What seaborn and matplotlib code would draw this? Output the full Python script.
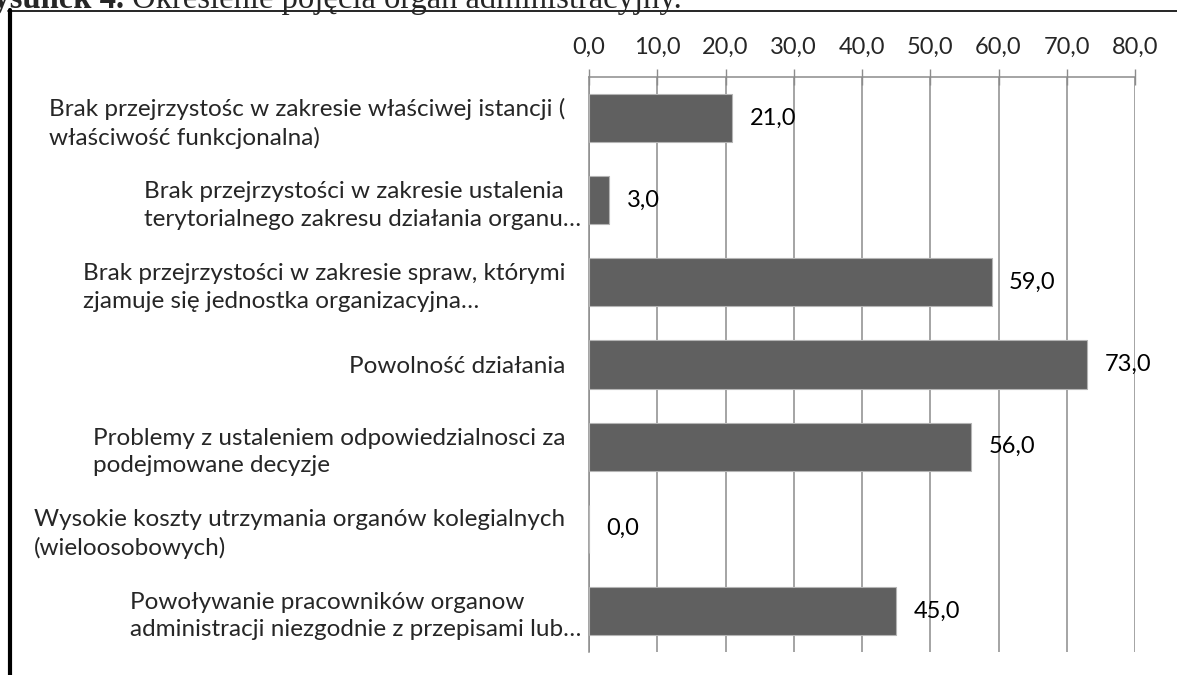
import matplotlib
matplotlib.use('Agg')
import matplotlib.pyplot as plt
import matplotlib.transforms as mtrans
from matplotlib.lines import Line2D
import numpy as np
import pandas as pd
import seaborn as sns

# dane z wykresu
kategorie = [
    'Brak przejrzystośc w zakresie właściwej istancji (\nwłaściwość funkcjonalna)',
    'Brak przejrzystości w zakresie ustalenia\nterytorialnego zakresu działania organu…',
    'Brak przejrzystości w zakresie spraw, którymi\nzjamuje się jednostka organizacyjna…',
    'Powolność działania',
    'Problemy z ustaleniem odpowiedzialnosci za\npodejmowane decyzje',
    'Wysokie koszty utrzymania organów kolegialnych\n(wieloosobowych)',
    'Powoływanie pracowników organow\nadministracji niezgodnie z przepisami lub…',
]
wartosci = [21.0, 3.0, 59.0, 73.0, 56.0, 0.0, 45.0]
ticki_x = [0, 10, 20, 30, 40, 50, 60, 70, 80]

df = pd.DataFrame({'kategoria': kategorie, 'wartosc': wartosci})

sns.set_style('white')
plt.rcParams['font.family'] = ['Lato', 'DejaVu Sans']

fig = plt.figure(figsize=(11.77, 6.75), dpi=100)
ax = fig.add_axes([589 / 1177, 1 - 652 / 675, (1135 - 589) / 1177, (652 - 77) / 675])

sns.barplot(data=df, x='wartosc', y='kategoria', orient='h', color='#606060',
            width=0.585, edgecolor='#b4b4b4', linewidth=0.8, saturation=1, ax=ax, zorder=3)

szary = '#8c8c8c'
ax.set_xlim(0, 80)
ax.set_ylim(len(kategorie) - 0.5, -0.5)
ax.set_xticks(ticki_x)
ax.set_xticklabels([f'{t:.1f}'.replace('.', ',') for t in ticki_x])
ax.xaxis.tick_top()
ax.tick_params(axis='x', direction='inout', length=11.5, width=1, color=szary,
               labelsize=17, pad=8)
ax.grid(axis='x', color=szary, linewidth=1.1, zorder=0)
ax.set_axisbelow(True)

# kreski między kategoriami na osi Y
ax.set_yticks(np.arange(len(kategorie) + 1) - 0.5, minor=True)
ax.tick_params(axis='y', which='minor', direction='out', length=6, width=1, color=szary)
ax.tick_params(axis='y', which='major', length=0, pad=17, labelsize=17.5)
for lab in ax.get_yticklabels():
    lab.set_multialignment('left')
    lab.set_linespacing(1.38)
    if lab.get_text().startswith(('Brak przejrzystości w zakresie ustalenia', 'Powoływanie')):
        lab.set_transform(lab.get_transform() + mtrans.ScaledTranslation(0.16, 0, fig.dpi_scale_trans))

ax.set_xlabel('')
ax.set_ylabel('')
for s in ['right', 'bottom']:
    ax.spines[s].set_visible(False)
for s in ['top', 'left']:
    ax.spines[s].set_color(szary)
    ax.spines[s].set_linewidth(1.1)

ax.bar_label(ax.containers[0], labels=[f'{v:.1f}'.replace('.', ',') for v in wartosci],
             padding=12.5, fontsize=17, color='black')

# podpis rysunku (ucięty u góry) i ramka
fig.text(124 / 1177, 1 - 8 / 675, 'Rysunek 4.', ha='right', va='baseline',
         family='Liberation Serif', fontweight='bold', fontsize=23.5)
fig.text(132 / 1177, 1 - 8 / 675, 'Określenie pojęcia organ administracyjny.', ha='left',
         va='baseline', family='Liberation Serif', fontsize=23.5)
fig.add_artist(Line2D([8 / 1177, 1], [1 - 11 / 675] * 2, color='black', lw=1.2,
                      transform=fig.transFigure))
fig.add_artist(Line2D([10 / 1177] * 2, [0, 1 - 10 / 675], color='black', lw=3,
                      transform=fig.transFigure))

fig.savefig('out.png', dpi=100)
